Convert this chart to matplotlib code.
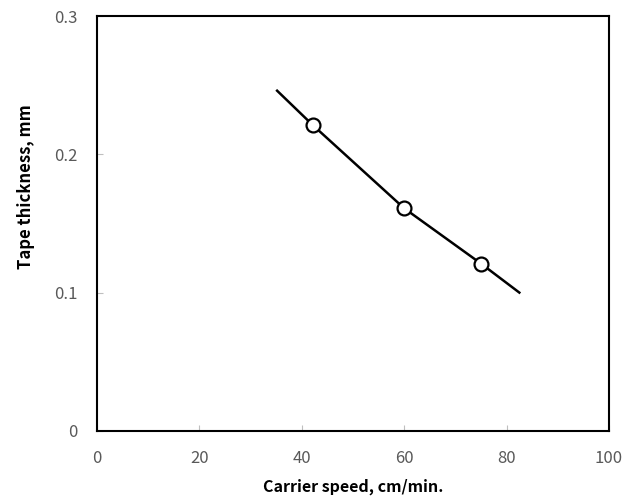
import matplotlib.pyplot as plt

# data
speed = [42.2, 60.0, 75.0]
thickness = [0.221, 0.161, 0.121]

# trend line drawn through the points
line_speed = [35.2, 42.2, 60.0, 75.0, 82.5]
line_thickness = [0.246, 0.221, 0.161, 0.121, 0.100]

x_ticks = [0, 20, 40, 60, 80, 100]
y_ticks = [0, 0.1, 0.2, 0.3]
y_tick_labels = ['0', '0.1', '0.2', '0.3']

plt.rcParams['font.family'] = ['Noto Sans CJK KR', 'DejaVu Sans']

fig = plt.figure(figsize=(6.33, 5.01), dpi=100)
ax = fig.add_axes([0.153, 0.140, 0.809, 0.828])

ax.plot(line_speed, line_thickness, color='black', lw=1.8, zorder=2)
ax.plot(speed, thickness, 'o', ms=10, mfc='white', mec='black', mew=1.6, zorder=3)

ax.set_xlim(0, 100)
ax.set_ylim(0, 0.3)
ax.set_xticks(x_ticks)
ax.set_yticks(y_ticks)
ax.set_yticklabels(y_tick_labels)

for s in ax.spines.values():
    s.set_linewidth(1.5)
    s.set_color('black')

ax.tick_params(direction='in', length=4, width=0.8, color='#bfbfbf',
               labelsize=12, labelcolor='#595959')
ax.tick_params(axis='x', pad=14)
ax.tick_params(axis='y', pad=14)

ax.set_xlabel('Carrier speed, cm/min.', fontsize=11.5, fontweight='bold', labelpad=8)
ax.set_ylabel('Tape thickness, mm', fontsize=12, fontweight='bold')
ax.yaxis.set_label_coords(-0.12, 0.588)

fig.savefig('out.png', dpi=100)
